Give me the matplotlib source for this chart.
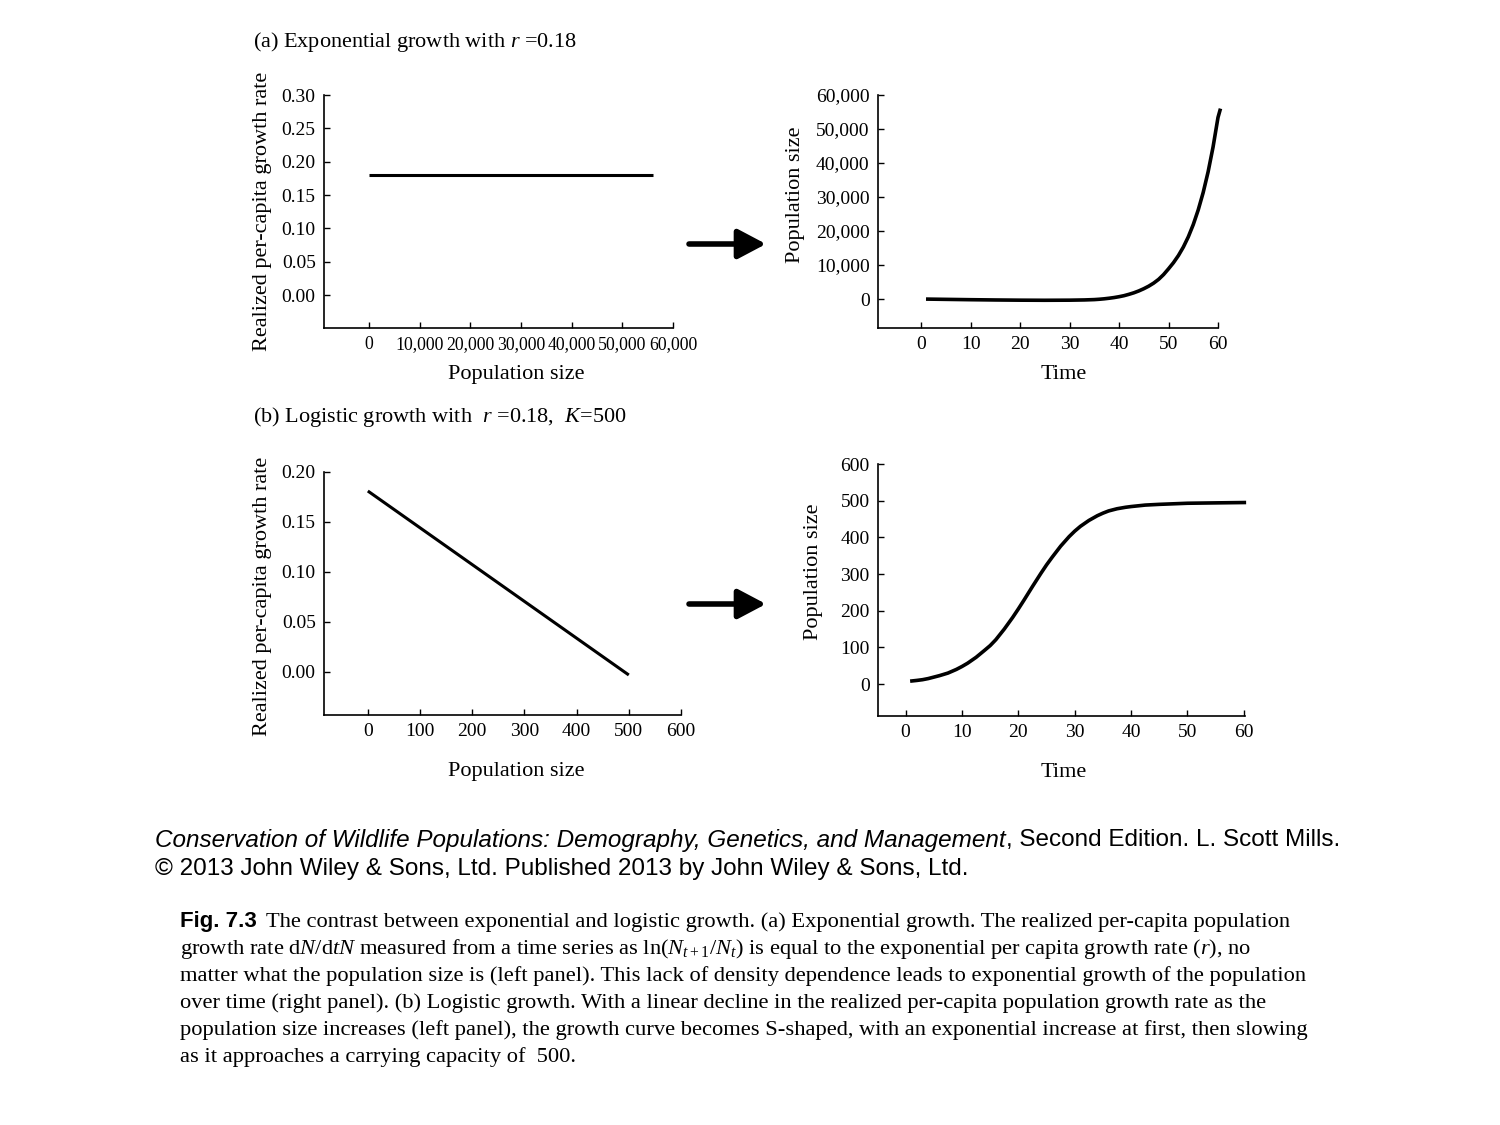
import matplotlib
matplotlib.use('Agg')
import matplotlib.pyplot as plt
from matplotlib.patches import FancyArrowPatch, ArrowStyle
from matplotlib.ticker import FuncFormatter

# (a) exponential growth, r = 0.18
exp_rate_N = [0, 56000]
exp_rate_r = [0.18, 0.18]
exp_time = [1, 5, 10, 15, 20, 25, 30, 33, 35, 36, 37, 38, 39, 40, 41, 42, 43,
            44, 45, 46, 47, 48, 49, 50, 51, 52, 53, 54, 55, 56, 57, 58, 59,
            60, 60.5]
exp_pop = [0, -80, -180, -260, -320, -350, -320, -250, -150, -50, 80, 250,
           450, 700, 1000, 1400, 1850, 2400, 3050, 3800, 4700, 5800, 7200,
           8900, 10700, 12800, 15300, 18300, 21900, 26200, 31300, 37400,
           44700, 53400, 56000]

# (b) logistic growth, r = 0.18, K = 500
log_rate_N = [0, 500]
log_rate_r = [0.181, -0.003]
log_time = [0.8, 2, 3, 4, 5, 6, 7.5, 9, 10, 11, 12.5, 14, 15, 16, 17.5, 19,
            20, 21, 22.5, 24, 25, 26, 27.5, 29, 30, 31, 32.5, 34, 35, 36,
            37.5, 39, 40, 42.5, 45, 50, 55, 60.4]
log_pop = [8, 10, 12, 15, 19, 23, 30, 40, 48, 57, 73, 92, 105, 121, 150, 182,
           205, 229, 266, 302, 325, 346, 376, 402, 417, 430, 446, 459, 466,
           472, 478, 482, 484, 488, 490, 493, 494, 495]

plt.rcParams['font.family'] = ['Liberation Serif', 'DejaVu Serif']
plt.rcParams['mathtext.fontset'] = 'custom'
plt.rcParams['mathtext.rm'] = 'Liberation Serif'
plt.rcParams['mathtext.it'] = 'Liberation Serif:italic'

W, H = 1500, 1125
fig = plt.figure(figsize=(15, 11.25), dpi=100)


def px(x0, y0, x1, y1):
    return [x0 / W, 1 - y1 / H, (x1 - x0) / W, (y1 - y0) / H]


def style(ax):
    for s in ['top', 'right']:
        ax.spines[s].set_visible(False)
    for s in ['left', 'bottom']:
        ax.spines[s].set_linewidth(1.2)
    ax.tick_params(direction='in', length=4, width=1, labelsize=14, pad=6)


comma = FuncFormatter(lambda v, p: '{:,}'.format(int(round(v))))
two = FuncFormatter(lambda v, p: '{:.2f}'.format(v))
line_kw = dict(color='black', solid_joinstyle='round', solid_capstyle='butt',
               clip_on=False)

ax1 = fig.add_axes(px(324, 95, 673, 328))
ax1.plot(exp_rate_N, exp_rate_r, lw=2.2, **line_kw)
ax1.set_xlim(-8900, 60000)
ax1.set_ylim(-0.0495, 0.30)
ax1.set_xticks(range(0, 60001, 10000))
ax1.set_yticks([0, 0.05, 0.10, 0.15, 0.20, 0.25, 0.30])
ax1.xaxis.set_major_formatter(comma)
ax1.yaxis.set_major_formatter(two)
style(ax1)
ax1.tick_params(axis='x', labelsize=12.8)
ax1.set_xlabel('Population size', fontsize=16)
ax1.set_ylabel('Realized per-capita growth rate', fontsize=16)
ax1.xaxis.set_label_coords(0.55, -0.16)
ax1.yaxis.set_label_coords(-0.15, 0.5)

ax2 = fig.add_axes(px(878, 95, 1218, 328))
ax2.plot(exp_time, exp_pop, lw=2.6, **line_kw)
ax2.set_xlim(-8.7, 60)
ax2.set_ylim(-8500, 60000)
ax2.set_xticks(range(0, 61, 10))
ax2.set_yticks(range(0, 60001, 10000))
ax2.yaxis.set_major_formatter(comma)
style(ax2)
ax2.set_xlabel('Time', fontsize=16)
ax2.set_ylabel('Population size', fontsize=16)
ax2.xaxis.set_label_coords(0.547, -0.16)
ax2.yaxis.set_label_coords(-0.215, 0.57)

ax3 = fig.add_axes(px(324, 472, 681, 715))
ax3.plot(log_rate_N, log_rate_r, lw=2.2, **line_kw)
ax3.set_xlim(-84, 600)
ax3.set_ylim(-0.043, 0.20)
ax3.set_xticks(range(0, 601, 100))
ax3.set_yticks([0, 0.05, 0.10, 0.15, 0.20])
ax3.yaxis.set_major_formatter(two)
style(ax3)
ax3.set_xlabel('Population size', fontsize=16)
ax3.set_ylabel('Realized per-capita growth rate', fontsize=16)
ax3.xaxis.set_label_coords(0.538, -0.195)
ax3.yaxis.set_label_coords(-0.147, 0.49)

ax4 = fig.add_axes(px(878, 464, 1245, 716))
ax4.plot(log_time, log_pop, lw=2.6, **line_kw)
ax4.set_xlim(-4.9, 60.2)
ax4.set_ylim(-87, 600)
ax4.set_xticks(range(0, 61, 10))
ax4.set_yticks(range(0, 601, 100))
style(ax4)
ax4.set_xlabel('Time', fontsize=16)
ax4.set_ylabel('Population size', fontsize=16)
ax4.xaxis.set_label_coords(0.507, -0.185)
ax4.yaxis.set_label_coords(-0.15, 0.571)

# panel titles
fig.text(253 / W, 1 - 42 / H, '(a) Exponential growth with $r$ =0.18',
         fontsize=16, va='center')
fig.text(253 / W, 1 - 417 / H, '(b) Logistic growth with  $r$ =0.18,  $K$=500',
         fontsize=16, va='center')

# arrows between panels
head = ArrowStyle('-|>', head_length=0.85, head_width=0.45)
for y in [244, 604]:
    fig.add_artist(FancyArrowPatch((689 / W, 1 - y / H), (766 / W, 1 - y / H),
                                   transform=fig.transFigure, arrowstyle=head,
                                   mutation_scale=20, lw=4, color='black',
                                   shrinkA=0, shrinkB=0))

fig.canvas.draw()
rend = fig.canvas.get_renderer()

# source line
src_size = 17.5
t = fig.text(155 / W, 1 - 840 / H,
             'Conservation of Wildlife Populations: Demography, Genetics, and Management',
             family='Liberation Sans', style='italic', fontsize=src_size, va='center')
bb = t.get_window_extent(rend)
fig.text(bb.x1 / W, 1 - 840 / H, ', Second Edition. L. Scott Mills.',
         family='Liberation Sans', fontsize=src_size, va='center')
fig.text(155 / W, 1 - 869 / H,
         '\u00a9 2013 John Wiley & Sons, Ltd. Published 2013 by John Wiley & Sons, Ltd.',
         family='Liberation Sans', fontsize=src_size, va='center')

# figure caption
f = fig.text(180 / W, 1 - 922 / H, 'Fig. 7.3', family='Liberation Sans',
             weight='bold', fontsize=16, va='center')
bb = f.get_window_extent(rend)
cap_size = 16.2
caption = [
    'The contrast between exponential and logistic growth. (a) Exponential growth. The realized per-capita population',
    'growth rate d$N$/d$tN$ measured from a time series as ln($N_{t+1}$/$N_t$) is equal to the exponential per capita growth rate ($r$), no',
    'matter what the population size is (left panel). This lack of density dependence leads to exponential growth of the population',
    'over time (right panel). (b) Logistic growth. With a linear decline in the realized per-capita population growth rate as the',
    'population size increases (left panel), the growth curve becomes S-shaped, with an exponential increase at first, then slowing',
    'as it approaches a carrying capacity of  500.',
]
fig.text((bb.x1 + 9) / W, 1 - 922 / H, caption[0], fontsize=cap_size, va='center')
for i, line in enumerate(caption[1:]):
    fig.text(180 / W, 1 - (949 + 27 * i) / H, line, fontsize=cap_size, va='center')

fig.savefig('out.png', dpi=100)
